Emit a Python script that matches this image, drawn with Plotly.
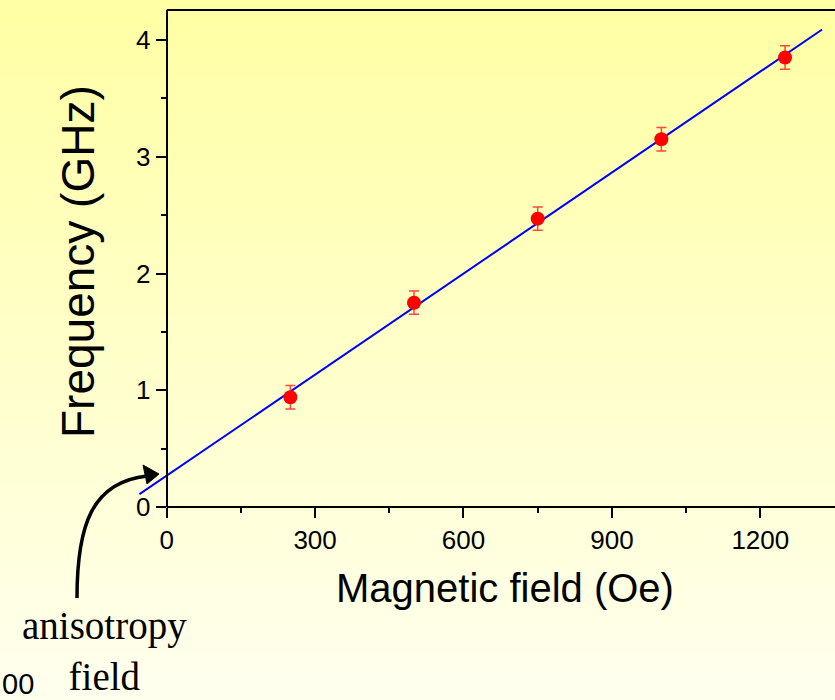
import plotly.graph_objects as go

# ---- data ----
field_oe = [250, 500, 750, 1000, 1250]
freq_ghz = [0.94, 1.75, 2.47, 3.15, 3.85]
freq_err = [0.10, 0.10, 0.10, 0.10, 0.10]

fit_x = [-55, 1325]
fit_y = [0.11, 4.09]

x_ticks = [0, 300, 600, 900, 1200]
y_ticks = [0, 1, 2, 3, 4]

x_title = "Magnetic field (Oe)"
y_title = "Frequency (GHz)"
note_text = "anisotropy<br>field"
stray_text = "00"

# ---- layout geometry ----
W, H = 835, 700
L, R, T, B = 137, 0, 10, 193
PW, PH = W - L - R, H - T - B
x_range = [-60, 1351]
y_range = [0, 4.257]


def pp(x, y):
    """pixel -> paper coordinates"""
    return (x - L) / PW, (H - B - y) / PH


fig = go.Figure()

# fitted line
fig.add_trace(go.Scatter(
    x=fit_x, y=fit_y, mode="lines",
    line=dict(color="#0000FF", width=2),
    hoverinfo="skip", showlegend=False,
))

# data points with error bars
fig.add_trace(go.Scatter(
    x=field_oe, y=freq_ghz, mode="markers",
    marker=dict(color="#FF0000", size=14, line=dict(width=0)),
    error_y=dict(type="data", array=freq_err, visible=True,
                 color="rgba(255,40,40,0.85)", thickness=1.5, width=5),
    showlegend=False, cliponaxis=False,
))

shapes = []
# vertical background gradient
n = 100
top_c = (255, 255, 164)
bot_c = (255, 255, 238)
for i in range(n):
    f = i / (n - 1)
    c = tuple(round(top_c[k] + (bot_c[k] - top_c[k]) * f) for k in range(3))
    y0p = H * i / n
    y1p = H * (i + 1) / n + 1
    _, py0 = pp(0, y0p)
    _, py1 = pp(0, y1p)
    px0, _ = pp(0, 0)
    px1, _ = pp(W, 0)
    shapes.append(dict(type="rect", xref="paper", yref="paper",
                       x0=px0, x1=px1, y0=py1, y1=py0,
                       fillcolor="rgb(%d,%d,%d)" % c, line=dict(width=0),
                       layer="below"))

# bottom axis line (starts at x = 0) and top frame line
shapes.append(dict(type="line", xref="x", yref="paper", x0=0, x1=x_range[1],
                   y0=0, y1=0, line=dict(color="black", width=2)))
shapes.append(dict(type="line", xref="x", yref="paper", x0=0, x1=x_range[1],
                   y0=1, y1=1, line=dict(color="black", width=2)))

# curved arrow
p0 = pp(77, 598)
c1 = pp(77, 525)
c2 = pp(92, 482)
p3 = pp(147, 476)
shapes.append(dict(type="path", xref="paper", yref="paper",
                   path="M %f %f C %f %f, %f %f, %f %f" % (p0 + c1 + c2 + p3),
                   line=dict(color="black", width=3.5)))
a0 = pp(159, 474)
a1 = pp(143, 465)
a2 = pp(147, 484)
shapes.append(dict(type="path", xref="paper", yref="paper",
                   path="M %f %f L %f %f L %f %f Z" % (a0 + a1 + a2),
                   fillcolor="black", line=dict(color="black", width=1)))

annotations = []
ax, ay = pp(505, 588)
annotations.append(dict(text=x_title, x=ax, y=ay, xref="paper", yref="paper",
                        showarrow=False, xanchor="center", yanchor="middle",
                        font=dict(family="Liberation Sans, Arial", size=40, color="black")))
ax, ay = pp(78, 262)
annotations.append(dict(text=y_title, x=ax, y=ay, xref="paper", yref="paper",
                        showarrow=False, xanchor="center", yanchor="middle", textangle=-90,
                        font=dict(family="Liberation Sans, Arial", size=46, color="black")))
ax, ay = pp(104, 651)
annotations.append(dict(text=note_text, x=ax, y=ay, xref="paper", yref="paper",
                        showarrow=False, xanchor="center", yanchor="middle",
                        font=dict(family="Liberation Serif, Times New Roman", size=39, color="black")))
ax, ay = pp(36, 684)
annotations.append(dict(text=stray_text, x=ax, y=ay, xref="paper", yref="paper",
                        showarrow=False, xanchor="right", yanchor="middle",
                        font=dict(family="Liberation Sans, Arial", size=29, color="black")))

ypos = (0 - x_range[0]) / (x_range[1] - x_range[0])

tick_font = dict(family="Liberation Sans, Arial", size=26, color="black")

fig.update_layout(
    width=W, height=H,
    margin=dict(l=L, r=R, t=T, b=B, pad=0),
    paper_bgcolor="rgba(0,0,0,0)",
    plot_bgcolor="rgba(0,0,0,0)",
    showlegend=False,
    shapes=shapes,
    annotations=annotations,
    xaxis=dict(range=x_range, tickvals=x_ticks, ticktext=[str(v) for v in x_ticks],
               showgrid=False, zeroline=False, showline=False,
               ticks="outside", ticklen=10, tickwidth=2, tickcolor="black",
               tickfont=tick_font,
               minor=dict(tickvals=[150, 450, 750, 1050], ticks="outside",
                          ticklen=5, tickwidth=2, tickcolor="black", showgrid=False)),
    yaxis=dict(range=y_range, tickvals=y_ticks, ticktext=[str(v) for v in y_ticks],
               anchor="free", position=ypos,
               showgrid=False, zeroline=False, showline=True, linecolor="black", linewidth=2,
               ticks="outside", ticklen=10, tickwidth=2, tickcolor="black",
               tickfont=tick_font,
               minor=dict(tickvals=[0.5, 1.5, 2.5, 3.5], ticks="outside",
                          ticklen=5, tickwidth=2, tickcolor="black", showgrid=False)),
)

fig.write_html("out.html")
